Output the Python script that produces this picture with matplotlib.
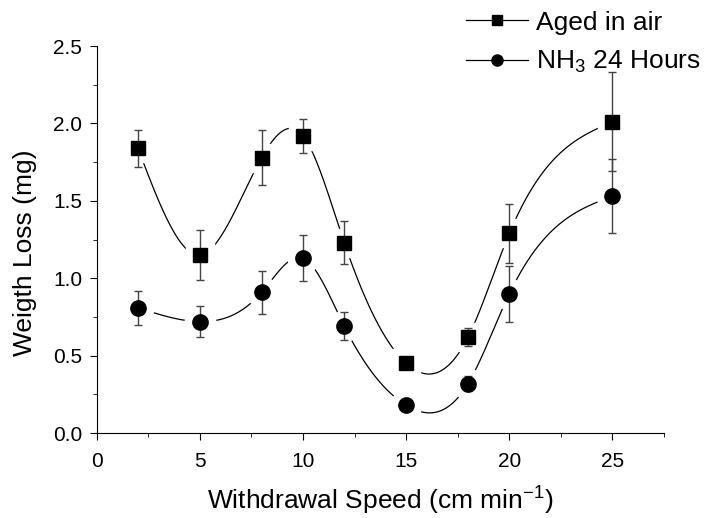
import matplotlib
matplotlib.use("Agg")
import matplotlib.pyplot as plt
import numpy as np
from matplotlib.ticker import MultipleLocator
from matplotlib.lines import Line2D

plt.rcParams['font.family'] = ['Liberation Sans', 'DejaVu Sans']
plt.rcParams['mathtext.default'] = 'regular'

speed = [2, 5, 8, 10, 12, 15, 18, 20, 25]
air_loss = [1.84, 1.15, 1.78, 1.92, 1.23, 0.45, 0.62, 1.29, 2.01]
air_err = [0.12, 0.16, 0.18, 0.11, 0.14, 0.02, 0.06, 0.19, 0.32]
nh3_loss = [0.81, 0.72, 0.91, 1.13, 0.69, 0.18, 0.32, 0.90, 1.53]
nh3_err = [0.11, 0.10, 0.14, 0.15, 0.09, 0.02, 0.05, 0.18, 0.24]


def cubic_spline(x, y, n=400):
    # natural cubic spline through the measured points
    x = np.asarray(x, float)
    y = np.asarray(y, float)
    h = np.diff(x)
    m = len(x)
    A = np.zeros((m, m))
    b = np.zeros(m)
    A[0, 0] = A[-1, -1] = 1
    for i in range(1, m - 1):
        A[i, i - 1] = h[i - 1]
        A[i, i] = 2 * (h[i - 1] + h[i])
        A[i, i + 1] = h[i]
        b[i] = 3 * ((y[i + 1] - y[i]) / h[i] - (y[i] - y[i - 1]) / h[i - 1])
    c = np.linalg.solve(A, b)
    xs = np.linspace(x[0], x[-1], n)
    idx = np.clip(np.searchsorted(x, xs) - 1, 0, m - 2)
    dx = xs - x[idx]
    bb = (y[idx + 1] - y[idx]) / h[idx] - h[idx] * (2 * c[idx] + c[idx + 1]) / 3
    dd = (c[idx + 1] - c[idx]) / (3 * h[idx])
    ys = y[idx] + bb * dx + c[idx] * dx ** 2 + dd * dx ** 3
    return xs, ys


fig = plt.figure(figsize=(7.11, 5.18), dpi=100)
ax = fig.add_axes([0.136, 0.164, 0.798, 0.747])

for yv, ev, mk, ms in [(air_loss, air_err, 's', 9.5), (nh3_loss, nh3_err, 'o', 11)]:
    xs, ys = cubic_spline(speed, yv)
    ax.plot(xs, ys, color='black', lw=0.9, zorder=1)
    # white halo leaves the gap Origin puts between line and symbol
    ax.plot(speed, yv, ls='none', marker=mk, ms=ms + 11, color='white', zorder=2)
    ax.errorbar(speed, yv, yerr=ev, fmt='none', ecolor='#444444', elinewidth=1.0,
                capsize=3, capthick=1.0, zorder=3)
    ax.plot(speed, yv, ls='none', marker=mk, ms=ms, color='black', zorder=4)

ax.set_xlim(0, 27.5)
ax.set_ylim(0, 2.5)
ax.xaxis.set_major_locator(MultipleLocator(5))
ax.xaxis.set_minor_locator(MultipleLocator(2.5))
ax.yaxis.set_major_locator(MultipleLocator(0.5))
ax.yaxis.set_minor_locator(MultipleLocator(0.25))
ax.yaxis.set_major_formatter(plt.FormatStrFormatter('%.1f'))
ax.spines['top'].set_visible(False)
ax.spines['right'].set_visible(False)
ax.tick_params(which='major', direction='out', length=5, labelsize=15)
ax.tick_params(which='minor', direction='out', length=3)
ax.tick_params(axis='x', which='major', pad=9)
ax.tick_params(axis='y', which='major', pad=5.5)
ax.set_xlabel('Withdrawal Speed (cm min$^{-1}$)', fontsize=19)
ax.set_ylabel('Weigth Loss (mg)', fontsize=19)
ax.xaxis.set_label_coords(0.5, -0.133)
ax.yaxis.set_label_coords(-0.106, 0.465)

handles = [
    Line2D([], [], color='black', lw=0.9, marker='s', ms=7),
    Line2D([], [], color='black', lw=0.9, marker='o', ms=8),
]
fig.legend(handles, ['Aged in air', 'NH$_3$ 24 Hours'], loc='upper right',
           bbox_to_anchor=(1.0, 1.0), frameon=False, fontsize=19,
           handlelength=2.35, handletextpad=0.3, labelspacing=0.55, borderaxespad=0.0)

fig.savefig('out.png', dpi=100)
